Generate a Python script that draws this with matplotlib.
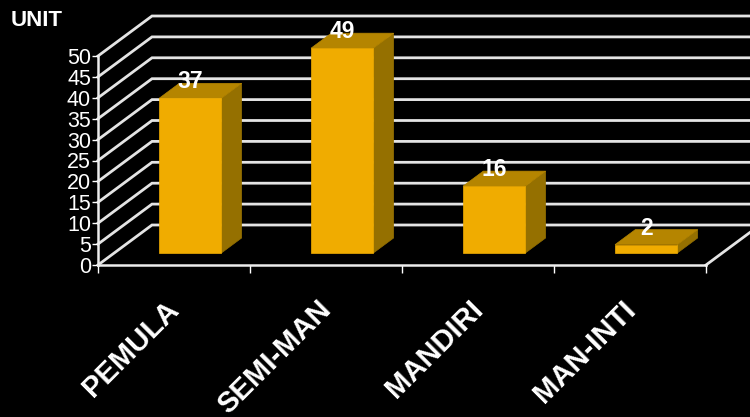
import matplotlib
matplotlib.use('Agg')
import matplotlib.pyplot as plt

categories = ['PEMULA', 'SEMI-MAN', 'MANDIRI', 'MAN-INTI']
values = [37, 49, 16, 2]
yticks = [0, 5, 10, 15, 20, 25, 30, 35, 40, 45, 50]

plt.rcParams['font.family'] = ['Liberation Sans', 'DejaVu Sans']
W, H = 750, 417
fig = plt.figure(figsize=(W / 100, H / 100), dpi=100, facecolor='black')
L, R, T, B = 98, 706, 56, 265
ax = fig.add_axes([L / W, 1 - B / H, (R - L) / W, (B - T) / H], facecolor='none')
ax.set_xlim(0, len(categories))
ax.set_ylim(0, 50)
for s in ('top', 'right'):
    ax.spines[s].set_visible(False)
for s in ('left', 'bottom'):
    ax.spines[s].set_color('#EDEDED')
    ax.spines[s].set_linewidth(1.8)

DX = 54 / ((R - L) / len(categories))
DY = 40 / ((B - T) / 50)

def pr(x, y, d):
    return x + d * DX, y + d * DY

GRID = '#E4E4E4'
for v in yticks:
    x0, y0 = pr(0, v, 0)
    x1, y1 = pr(0, v, 1)
    x2, y2 = pr(len(categories), v, 1)
    ax.plot([x0, x1, x2], [y0, y1, y2], color=GRID, lw=2, clip_on=False, zorder=1,
            solid_joinstyle='miter')
x0, y0 = pr(len(categories), 0, 0)
x1, y1 = pr(len(categories), 0, 1)
ax.plot([x0, x1], [y0, y1], color=GRID, lw=2, clip_on=False, zorder=1)

FRONT, TOP, SIDE = '#F0AC00', '#B58500', '#957000'
w = 0.41
d0, d1 = 0.30, 0.675
for i, v in enumerate(values):
    xl, xr = i + 0.5 - w / 2, i + 0.5 + w / 2
    face = [pr(xl, 0, d0), pr(xr, 0, d0), pr(xr, v, d0), pr(xl, v, d0)]
    top = [pr(xl, v, d0), pr(xr, v, d0), pr(xr, v, d1), pr(xl, v, d1)]
    side = [pr(xr, 0, d0), pr(xr, 0, d1), pr(xr, v, d1), pr(xr, v, d0)]
    for poly, c in ((side, SIDE), (top, TOP), (face, FRONT)):
        ax.fill(*zip(*poly), color=c, lw=0.5, clip_on=False, zorder=3)
    tx, ty = pr(i + 0.5, v, d0)
    ax.annotate(str(v), (tx, ty), xytext=(0, 3.5), textcoords='offset points', ha='center',
                va='bottom', color='white', fontsize=16.5, fontweight='bold', zorder=5,
                annotation_clip=False)

ax.set_yticks(yticks)
ax.tick_params(axis='y', colors='white', labelsize=15.5, length=4, width=1, pad=1)
ax.set_xticks(range(len(categories) + 1))
ax.set_xticklabels([])
ax.tick_params(axis='x', colors='white', length=6, width=1)

for i, c in enumerate(categories):
    ax.annotate(c, (i + 0.5, 0), xytext=(-6.5, -22), textcoords='offset points', rotation=45,
                rotation_mode='anchor', ha='right', va='top', color='white', fontsize=21,
                fontweight='bold', annotation_clip=False)

fig.text(11 / W, 1 - 21 / H, 'UNIT', color='white', fontsize=16, fontweight='bold', va='center')
fig.savefig('out.png', dpi=100, facecolor='black')
